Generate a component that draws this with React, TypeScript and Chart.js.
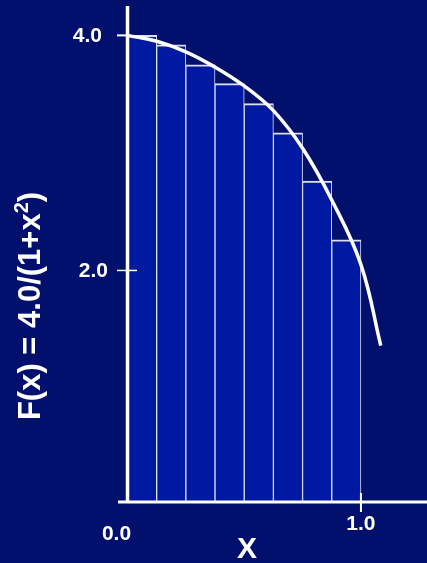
import React, { useEffect, useRef } from "react";
import { Chart, registerables } from "chart.js";

Chart.register(...registerables);

// Bar (rectangle) heights at left endpoints, 8 intervals over [0,1]
const barX = [0.0625, 0.1875, 0.3125, 0.4375, 0.5625, 0.6875, 0.8125, 0.9375];
const barHeights = [4.0, 3.92, 3.75, 3.59, 3.42, 3.17, 2.76, 2.26];

// Curve points
const curveX = [0, 0.125, 0.25, 0.375, 0.5, 0.625, 0.75, 0.875, 1.0, 1.085];
const curveY = [4.0, 3.95, 3.86, 3.73, 3.57, 3.36, 3.04, 2.6, 2.05, 1.36];

const yTicks = [4.0, 2.0];
const yTickLabels = ["4.0", "2.0"];
const xTicks = [0.0, 1.0];
const xTickLabels = ["0.0", "1.0"];

const yTitleParts = ["F(x) = 4.0/(1+x", "2", ")"];
const xTitle = "X";

const BG = "#00106c";
const BAR = "#0019a2";
const BAR_EDGE = "#dcdff0";
const FONT = "'Liberation Sans', Arial, sans-serif";

const decorPlugin = {
  id: "decor",
  beforeDraw(chart: any) {
    const { ctx, width, height } = chart;
    ctx.save();
    ctx.fillStyle = BG;
    ctx.fillRect(0, 0, width, height);
    ctx.restore();
  },
  afterDraw(chart: any) {
    const { ctx, chartArea } = chart;
    const xs = chart.scales.x;
    const ys = chart.scales.y;
    const x0 = xs.getPixelForValue(0);
    const yb = chartArea.bottom;
    ctx.save();
    ctx.strokeStyle = "#ffffff";
    ctx.lineCap = "butt";
    // y axis
    ctx.lineWidth = 3.5;
    ctx.beginPath();
    ctx.moveTo(x0, chartArea.top);
    ctx.lineTo(x0, yb);
    ctx.stroke();
    // x axis
    ctx.lineWidth = 3;
    ctx.beginPath();
    ctx.moveTo(118, yb);
    ctx.lineTo(chart.width, yb);
    ctx.stroke();

    ctx.fillStyle = "#ffffff";
    ctx.font = `bold 21px ${FONT}`;
    ctx.textBaseline = "middle";
    // y ticks
    yTicks.forEach((v, i) => {
      const py = ys.getPixelForValue(v);
      ctx.lineWidth = i === 0 ? 2 : 1.5;
      ctx.beginPath();
      ctx.moveTo(117, py);
      ctx.lineTo(i === 0 ? x0 : 137, py);
      ctx.stroke();
      ctx.textAlign = "right";
      ctx.fillText(yTickLabels[i], i === 0 ? 102 : 108, py + 1);
    });
    // x ticks
    xTicks.forEach((v, i) => {
      const px = xs.getPixelForValue(v);
      ctx.textAlign = "center";
      if (v > 0) {
        ctx.lineWidth = 2;
        ctx.beginPath();
        ctx.moveTo(px, yb - 9);
        ctx.lineTo(px, yb + 10);
        ctx.stroke();
        ctx.fillText(xTickLabels[i], px, 524);
      } else {
        ctx.fillText(xTickLabels[i], px - 11, 534);
      }
    });
    // x title
    ctx.font = `bold 30px ${FONT}`;
    ctx.textAlign = "center";
    ctx.fillText(xTitle, 247, 550);
    // y title with superscript
    ctx.translate(29, 306);
    ctx.rotate(-Math.PI / 2);
    ctx.textAlign = "left";
    ctx.textBaseline = "alphabetic";
    const big = `bold 31px ${FONT}`;
    const small = `bold 20px ${FONT}`;
    ctx.font = big;
    const w1 = ctx.measureText(yTitleParts[0]).width;
    const w3 = ctx.measureText(yTitleParts[2]).width;
    ctx.font = small;
    const w2 = ctx.measureText(yTitleParts[1]).width;
    let sx = -(w1 + w2 + w3) / 2;
    const base = 11;
    ctx.font = big;
    ctx.fillText(yTitleParts[0], sx, base);
    sx += w1;
    ctx.font = small;
    ctx.fillText(yTitleParts[1], sx, base - 12);
    sx += w2;
    ctx.font = big;
    ctx.fillText(yTitleParts[2], sx, base);
    ctx.restore();
  },
};

export default function App() {
  const ref = useRef<HTMLCanvasElement | null>(null);
  useEffect(() => {
    document.body.style.margin = "0";
    document.body.style.background = BG;
    const c = ref.current!;
    const chart = new Chart(c, {
      type: "bar",
      data: {
        datasets: [
          {
            type: "line",
            data: curveX.map((x, i) => ({ x, y: curveY[i] })),
            borderColor: "#ffffff",
            borderWidth: 3.5,
            pointRadius: 0,
            tension: 0.4,
            fill: false,
            order: 0,
          } as any,
          {
            type: "bar",
            data: barX.map((x, i) => ({ x, y: barHeights[i] })),
            backgroundColor: BAR,
            borderColor: BAR_EDGE,
            borderWidth: { top: 2, left: 1, right: 1, bottom: 0 },
            borderSkipped: false,
            barPercentage: 1,
            categoryPercentage: 1,
            order: 1,
          } as any,
        ],
      },
      options: {
        responsive: false,
        animation: false,
        layout: { padding: { left: 127.5, right: 0, top: 6, bottom: 61 } },
        plugins: { legend: { display: false }, tooltip: { enabled: false } },
        scales: {
          x: { type: "linear", min: 0, max: 1.283, display: false, offset: false },
          y: { type: "linear", min: 0.03, max: 4.25, display: false },
        },
      },
      plugins: [decorPlugin],
    });
    return () => chart.destroy();
  }, []);
  return (
    <div style={{ position: "fixed", left: 0, top: 0, width: 427, height: 563, background: BG }}>
      <canvas ref={ref} width={427} height={563} style={{ display: "block" }} />
    </div>
  );
}
